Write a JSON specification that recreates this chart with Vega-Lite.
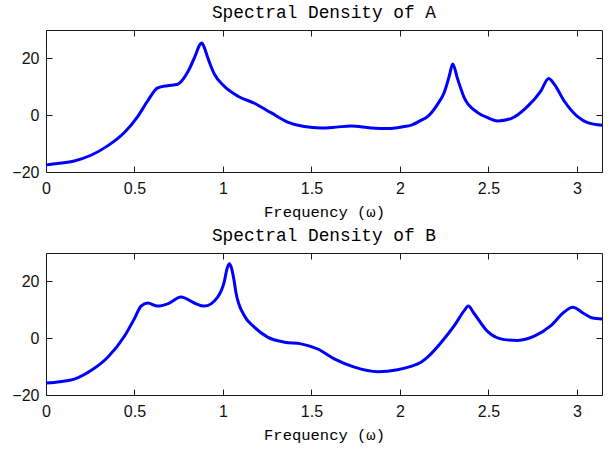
{
  "$schema": "https://vega.github.io/schema/vega-lite/v6.json",
  "background": "white",
  "padding": {"left": 11, "top": 3, "right": 12, "bottom": 5},
  "spacing": 81,
  "bounds": "flush",
  "datasets": {
    "A": [
      {"x": 0, "y": -17.5}, {"x": 0.066, "y": -17.0}, {"x": 0.16, "y": -16.1}, {"x": 0.254, "y": -14.1},
      {"x": 0.348, "y": -10.8}, {"x": 0.443, "y": -6.1}, {"x": 0.518, "y": -0.5}, {"x": 0.574, "y": 5.0},
      {"x": 0.631, "y": 9.6}, {"x": 0.687, "y": 10.4}, {"x": 0.744, "y": 10.9}, {"x": 0.8, "y": 15.1},
      {"x": 0.847, "y": 21.5}, {"x": 0.866, "y": 24.5}, {"x": 0.88, "y": 25.4}, {"x": 0.894, "y": 23.9},
      {"x": 0.913, "y": 20.4}, {"x": 0.951, "y": 14.5}, {"x": 1.0, "y": 10.6}, {"x": 1.09, "y": 6.5},
      {"x": 1.177, "y": 4.2}, {"x": 1.271, "y": 0.9}, {"x": 1.365, "y": -2.4}, {"x": 1.459, "y": -4.0},
      {"x": 1.554, "y": -4.5}, {"x": 1.64, "y": -4.2}, {"x": 1.723, "y": -3.8}, {"x": 1.836, "y": -4.5},
      {"x": 1.93, "y": -4.7}, {"x": 2.024, "y": -4.0}, {"x": 2.06, "y": -3.6}, {"x": 2.119, "y": -1.8},
      {"x": 2.156, "y": -0.5}, {"x": 2.213, "y": 3.9}, {"x": 2.25, "y": 8.0}, {"x": 2.279, "y": 13.9},
      {"x": 2.298, "y": 18.0}, {"x": 2.326, "y": 12.7}, {"x": 2.363, "y": 6.2}, {"x": 2.439, "y": 0.9},
      {"x": 2.5, "y": -1.0}, {"x": 2.552, "y": -2.0}, {"x": 2.627, "y": -1.2}, {"x": 2.721, "y": 3.1},
      {"x": 2.797, "y": 8.6}, {"x": 2.84, "y": 12.9}, {"x": 2.872, "y": 10.9}, {"x": 2.928, "y": 5.0},
      {"x": 3.004, "y": -0.5}, {"x": 3.06, "y": -2.6}, {"x": 3.1416, "y": -3.5}
    ],
    "B": [
      {"x": 0, "y": -15.8}, {"x": 0.08, "y": -15.3}, {"x": 0.16, "y": -14.4}, {"x": 0.254, "y": -11.4},
      {"x": 0.349, "y": -6.7}, {"x": 0.443, "y": 0.7}, {"x": 0.499, "y": 6.8}, {"x": 0.537, "y": 11.3},
      {"x": 0.574, "y": 12.4}, {"x": 0.631, "y": 11.3}, {"x": 0.687, "y": 12.1}, {"x": 0.763, "y": 14.5},
      {"x": 0.838, "y": 12.4}, {"x": 0.894, "y": 11.3}, {"x": 0.97, "y": 14.5}, {"x": 1.007, "y": 19.8},
      {"x": 1.023, "y": 24.5}, {"x": 1.036, "y": 26.2}, {"x": 1.049, "y": 24.5}, {"x": 1.064, "y": 19.8},
      {"x": 1.073, "y": 16.2}, {"x": 1.12, "y": 8.0}, {"x": 1.177, "y": 3.9}, {"x": 1.252, "y": 0.4},
      {"x": 1.347, "y": -1.4}, {"x": 1.441, "y": -2.0}, {"x": 1.535, "y": -3.8}, {"x": 1.629, "y": -7.3},
      {"x": 1.742, "y": -10.2}, {"x": 1.874, "y": -11.8}, {"x": 1.987, "y": -11.1}, {"x": 2.062, "y": -9.9},
      {"x": 2.119, "y": -8.5}, {"x": 2.156, "y": -6.7}, {"x": 2.25, "y": -0.2}, {"x": 2.307, "y": 4.4},
      {"x": 2.363, "y": 9.7}, {"x": 2.386, "y": 11.3}, {"x": 2.42, "y": 8.6}, {"x": 2.496, "y": 2.3},
      {"x": 2.59, "y": -0.5}, {"x": 2.665, "y": -0.8}, {"x": 2.759, "y": 0.7}, {"x": 2.853, "y": 4.4},
      {"x": 2.928, "y": 9.2}, {"x": 2.976, "y": 10.9}, {"x": 3.041, "y": 8.6}, {"x": 3.088, "y": 7.1},
      {"x": 3.1416, "y": 6.8}
    ]
  },
  "config": {
    "view": {"stroke": "#1a1a1a", "strokeWidth": 1},
    "axis": {
      "domain": false, "grid": false, "tickColor": "#1a1a1a", "tickSize": 6, "offset": -6,
      "labelFont": "Liberation Sans", "labelFontSize": 16, "labelColor": "#111",
      "titleFont": "Liberation Mono", "titleFontSize": 15.5, "titleFontWeight": "normal", "titleColor": "#000"
    },
    "title": {"font": "Liberation Mono", "fontSize": 17.8, "fontWeight": "normal", "color": "#000", "frame": "group", "anchor": "middle"}
  },
  "vconcat": [
    {
      "title": {"text": "Spectral Density of A", "offset": 8},
      "width": 556, "height": 142,
      "data": {"name": "A"},
      "layer": [
        {
          "mark": {"type": "line", "color": "#0000FF", "strokeWidth": 3, "interpolate": "monotone"},
          "encoding": {
            "x": {"field": "x", "type": "quantitative", "scale": {"domain": [0, 3.14159], "nice": false, "zero": false},
                  "axis": {"orient": "bottom", "values": [0, 0.5, 1, 1.5, 2, 2.5, 3], "format": "~g", "labelPadding": 8, "title": "Frequency (ω)", "titlePadding": 8, "labelFlush": false}},
            "y": {"field": "y", "type": "quantitative", "scale": {"domain": [-20, 30], "nice": false},
                  "axis": {"orient": "left", "values": [-20, 0, 20], "labelPadding": 7, "title": null}}
          }
        },
        {
          "mark": {"type": "line", "opacity": 0},
          "encoding": {
            "x": {"field": "x", "type": "quantitative", "axis": {"orient": "top", "values": [0, 0.5, 1, 1.5, 2, 2.5, 3], "labels": false, "title": null}},
            "y": {"field": "y", "type": "quantitative", "axis": {"orient": "right", "values": [-20, 0, 20], "labels": false, "title": null}}
          }
        }
      ],
      "resolve": {"axis": {"x": "independent", "y": "independent"}}
    },
    {
      "title": {"text": "Spectral Density of B", "offset": 8},
      "width": 556, "height": 142,
      "data": {"name": "B"},
      "layer": [
        {
          "mark": {"type": "line", "color": "#0000FF", "strokeWidth": 3, "interpolate": "monotone"},
          "encoding": {
            "x": {"field": "x", "type": "quantitative", "scale": {"domain": [0, 3.14159], "nice": false, "zero": false},
                  "axis": {"orient": "bottom", "values": [0, 0.5, 1, 1.5, 2, 2.5, 3], "format": "~g", "labelPadding": 8, "title": "Frequency (ω)", "titlePadding": 8, "labelFlush": false}},
            "y": {"field": "y", "type": "quantitative", "scale": {"domain": [-20, 30], "nice": false},
                  "axis": {"orient": "left", "values": [-20, 0, 20], "labelPadding": 7, "title": null}}
          }
        },
        {
          "mark": {"type": "line", "opacity": 0},
          "encoding": {
            "x": {"field": "x", "type": "quantitative", "axis": {"orient": "top", "values": [0, 0.5, 1, 1.5, 2, 2.5, 3], "labels": false, "title": null}},
            "y": {"field": "y", "type": "quantitative", "axis": {"orient": "right", "values": [-20, 0, 20], "labels": false, "title": null}}
          }
        }
      ],
      "resolve": {"axis": {"x": "independent", "y": "independent"}}
    }
  ]
}
